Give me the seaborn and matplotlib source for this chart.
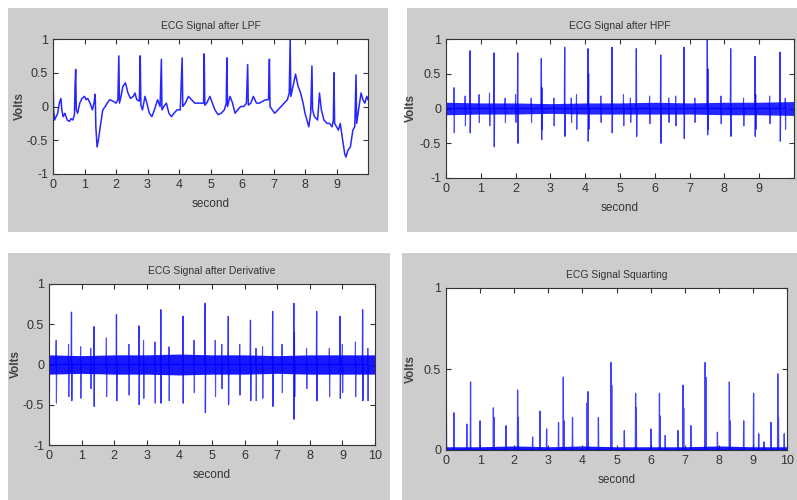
import numpy as np
import pandas as pd
import matplotlib
matplotlib.use("Agg")
import matplotlib.pyplot as plt
import seaborn as sns
from matplotlib.patches import Rectangle

sns.set_style("ticks")
plt.rcParams["font.family"] = ["Liberation Sans", "DejaVu Sans"]

# ---- panel 1: low pass filtered ECG (time, volts)
lpf_t = [0.00, 0.02, 0.05, 0.10, 0.15, 0.20, 0.25, 0.28, 0.32, 0.38, 0.45, 0.52, 0.58, 0.63, 0.68,
         0.70, 0.72, 0.74, 0.78, 0.85, 0.92, 1.00, 1.05, 1.10, 1.18, 1.25, 1.30, 1.34, 1.36, 1.40,
         1.44, 1.50, 1.58, 1.66, 1.72, 1.80, 1.90, 2.00, 2.06, 2.09, 2.11, 2.16, 2.22, 2.30, 2.38,
         2.46, 2.55, 2.60, 2.66, 2.74, 2.77, 2.79, 2.84, 2.92, 2.98, 3.06, 3.14, 3.22, 3.32, 3.40,
         3.44, 3.46, 3.52, 3.60, 3.68, 3.76, 3.84, 3.94, 4.04, 4.10, 4.12, 4.20, 4.30, 4.40, 4.50,
         4.60, 4.70, 4.78, 4.80, 4.82, 4.88, 4.98, 5.06, 5.14, 5.24, 5.34, 5.44, 5.50, 5.52, 5.54,
         5.62, 5.70, 5.78, 5.86, 5.96, 6.06, 6.14, 6.18, 6.20, 6.28, 6.36, 6.46, 6.56, 6.66, 6.76,
         6.84, 6.87, 6.89, 6.96, 7.04, 7.14, 7.24, 7.34, 7.44, 7.50, 7.53, 7.55, 7.62, 7.70, 7.78,
         7.86, 7.94, 8.00, 8.06, 8.12, 8.18, 8.22, 8.24, 8.30, 8.40, 8.46, 8.52, 8.60, 8.70, 8.78,
         8.86, 8.90, 8.92, 8.94, 9.00, 9.06, 9.12, 9.18, 9.26, 9.30, 9.36, 9.44, 9.52, 9.58, 9.62,
         9.64, 9.70, 9.78, 9.84, 9.90, 9.96, 10.00]
lpf_v = [0.50, -0.05, -0.20, -0.15, -0.10, 0.05, 0.12, -0.05, -0.15, -0.10, -0.20, -0.22, -0.18, -0.20, -0.12,
         0.30, 0.55, -0.05, -0.10, 0.05, 0.12, 0.15, 0.10, 0.12, 0.05, -0.05, 0.05, 0.18, -0.30, -0.60,
         -0.50, -0.30, -0.05, 0.00, 0.05, 0.10, 0.08, 0.05, 0.10, 0.75, 0.05, 0.15, 0.30, 0.35, 0.20,
         0.12, 0.15, 0.20, 0.10, 0.08, 0.75, 0.02, -0.05, 0.15, 0.05, -0.10, -0.15, -0.05, 0.10, 0.00,
         0.70, -0.05, 0.00, 0.05, -0.10, -0.15, -0.10, -0.05, -0.05, 0.72, 0.00, 0.05, 0.15, 0.10, 0.05,
         0.05, 0.05, 0.05, 0.78, 0.02, 0.05, 0.15, 0.05, -0.05, -0.12, -0.10, -0.05, 0.05, 0.72, 0.00,
         0.15, 0.05, -0.10, -0.05, 0.00, 0.00, 0.05, 0.62, 0.02, 0.05, 0.15, 0.05, 0.05, 0.08, 0.10,
         0.10, 0.70, 0.00, -0.05, -0.10, -0.05, 0.00, 0.05, 0.10, 0.20, 1.00, 0.15, 0.30, 0.48, 0.30,
         0.20, 0.05, -0.10, -0.20, -0.30, -0.10, 0.60, -0.05, -0.15, -0.20, 0.20, -0.05, -0.20, -0.25, -0.25,
         -0.30, -0.20, 0.50, -0.25, -0.30, -0.35, -0.25, -0.45, -0.70, -0.75, -0.65, -0.60, -0.35, -0.30, 0.47,
         -0.25, -0.05, 0.20, 0.10, 0.05, 0.15, 0.10]

# ---- panel 2: high pass filtered, R peaks (time, top, bottom)
hpf_r_t = [0.00, 0.69, 1.38, 2.06, 2.74, 3.41, 4.08, 4.77, 5.47, 6.17, 6.84, 7.51, 8.18, 8.88, 9.60]
hpf_r_top = [0.72, 0.83, 0.80, 0.80, 0.72, 0.88, 0.86, 0.88, 0.86, 0.77, 0.88, 1.00, 0.86, 0.75, 0.81]
hpf_r_bot = [-0.43, -0.35, -0.55, -0.50, -0.45, -0.40, -0.47, -0.35, -0.40, -0.50, -0.43, -0.38, -0.40, -0.40, -0.47]
hpf_s_t = [0.23, 0.55, 0.95, 1.25, 1.70, 2.00, 2.45, 2.76, 3.10, 3.60, 3.75, 4.10, 4.45, 5.10,
           5.30, 5.85, 6.40, 6.60, 7.15, 7.53, 7.90, 8.55, 8.90, 9.30, 9.75]
hpf_s_top = [0.30, 0.18, 0.20, 0.22, 0.15, 0.20, 0.15, 0.30, 0.15, 0.15, 0.20, 0.50, 0.18, 0.20,
             0.15, 0.18, 0.15, 0.18, 0.15, 0.57, 0.18, 0.15, 0.20, 0.18, 0.15]
hpf_s_bot = [-0.35, -0.25, -0.20, -0.25, -0.20, -0.20, -0.20, -0.30, -0.25, -0.20, -0.30, -0.30, -0.20, -0.25,
             -0.20, -0.22, -0.20, -0.25, -0.20, -0.30, -0.22, -0.25, -0.30, -0.22, -0.30]
hpf_band_t = [0, 1, 2, 3, 4, 5, 6, 7, 8, 9, 10]
hpf_band_hi = [0.09, 0.08, 0.08, 0.07, 0.08, 0.08, 0.09, 0.08, 0.09, 0.09, 0.10]
hpf_band_lo = [-0.09, -0.08, -0.08, -0.07, -0.08, -0.08, -0.08, -0.08, -0.09, -0.09, -0.10]

# ---- panel 3: derivative
der_r_t = [0.00, 0.69, 1.38, 2.07, 2.76, 3.43, 4.11, 4.79, 5.50, 6.18, 6.86, 7.51, 8.21, 8.93, 9.62]
der_r_top = [0.60, 0.65, 0.47, 0.62, 0.48, 0.68, 0.60, 0.76, 0.60, 0.55, 0.66, 0.76, 0.66, 0.60, 0.68]
der_r_bot = [-1.00, -0.45, -0.52, -0.45, -0.50, -0.48, -0.48, -0.60, -0.50, -0.45, -0.52, -0.68, -0.45, -0.42, -0.45]
der_s_t = [0.22, 0.60, 0.97, 1.28, 1.76, 2.45, 2.90, 3.25, 3.68, 4.45, 5.10, 5.30, 5.85, 6.35,
           6.55, 7.15, 7.53, 7.90, 8.60, 9.00, 9.40, 9.78]
der_s_top = [0.30, 0.25, 0.22, 0.20, 0.33, 0.25, 0.30, 0.28, 0.22, 0.30, 0.30, 0.25, 0.25, 0.20,
             0.22, 0.25, 0.40, 0.20, 0.20, 0.25, 0.28, 0.20]
der_s_bot = [-0.48, -0.40, -0.42, -0.30, -0.40, -0.38, -0.42, -0.48, -0.45, -0.35, -0.40, -0.30, -0.38, -0.45,
             -0.42, -0.35, -0.40, -0.30, -0.40, -0.35, -0.40, -0.45]
der_band_t = [0, 1, 2, 3, 4, 5, 6, 7, 8, 9, 10]
der_band_hi = [0.12, 0.11, 0.12, 0.12, 0.13, 0.12, 0.12, 0.11, 0.12, 0.12, 0.12]
der_band_lo = [-0.12, -0.11, -0.12, -0.12, -0.13, -0.12, -0.12, -0.11, -0.12, -0.12, -0.12]

# ---- panel 4: squared signal (time, height)
sq_t = [0.00, 0.01, 0.23, 0.61, 0.72, 1.00, 1.39, 1.41, 1.76, 2.10, 2.12, 2.54, 2.76, 2.95, 3.30,
        3.44, 3.46, 3.71, 4.14, 4.16, 4.47, 4.84, 4.86, 5.23, 5.56, 5.58, 6.01, 6.26, 6.28, 6.43,
        6.80, 6.95, 6.97, 7.18, 7.60, 7.62, 7.96, 8.31, 8.33, 8.73, 9.02, 9.17, 9.33, 9.53, 9.73,
        9.75, 9.92]
sq_h = [1.00, 0.35, 0.23, 0.16, 0.42, 0.18, 0.26, 0.20, 0.15, 0.37, 0.20, 0.08, 0.24, 0.13, 0.17,
        0.45, 0.18, 0.20, 0.29, 0.36, 0.20, 0.54, 0.40, 0.12, 0.35, 0.26, 0.13, 0.35, 0.21, 0.09,
        0.12, 0.40, 0.26, 0.15, 0.54, 0.45, 0.11, 0.42, 0.18, 0.18, 0.35, 0.10, 0.05, 0.17, 0.47,
        0.20, 0.10]
sq_band_t = [0, 1, 2, 3, 4, 5, 6, 7, 8, 9, 10]
sq_band_hi = [0.02, 0.02, 0.025, 0.02, 0.025, 0.02, 0.02, 0.02, 0.025, 0.02, 0.02]

BLUE = (0, 0, 1)
DT = 0.008


def spike_frame(times, tops, bots):
    rows = []
    for t, a, b in zip(times, tops, bots):
        rows += [(t - DT, 0.0), (t, a), (t + DT, b), (t + 2 * DT, 0.0)]
    return pd.DataFrame(rows, columns=["t", "v"])


def matlab_axes(ax, title, ylim, yticks, ylabels, xticks):
    ax.set_xlim(0, 10)
    ax.set_ylim(*ylim)
    ax.set_xticks(xticks)
    ax.set_xticklabels([str(x) for x in xticks], fontsize=9)
    ax.set_yticks(yticks)
    ax.set_yticklabels(ylabels, fontsize=9)
    ax.tick_params(direction="in", length=3.5, width=0.8, top=True, right=True, pad=3.5,
                   colors="#333333")
    for s in ax.spines.values():
        s.set_visible(True)
        s.set_linewidth(0.8)
        s.set_color("#333333")
    ax.set_title(title, fontsize=7.5, pad=7, color="#333333")
    ax.set_xlabel("second", fontsize=8.5, labelpad=5, color="#333333")
    ax.set_ylabel("Volts", fontsize=8.5, fontweight="bold", color="#444444")
    ax.set_facecolor("white")


fig = plt.figure(figsize=(7.97, 5.0), dpi=100)
W, H = 797, 500
for x0, y0, x1, y1 in [(8, 8, 388, 232), (407, 8, 797, 232), (8, 253, 390, 500), (402, 253, 797, 500)]:
    fig.patches.append(Rectangle((x0 / W, 1 - y1 / H), (x1 - x0) / W, (y1 - y0) / H,
                                 transform=fig.transFigure, facecolor="#cdcdcd", edgecolor="none", zorder=-5))

ax1 = fig.add_axes([53 / W, 1 - 174 / H, 315 / W, 135 / H])
ax2 = fig.add_axes([446 / W, 1 - 178 / H, 348 / W, 139 / H])
ax3 = fig.add_axes([49 / W, 1 - 445 / H, 326 / W, 161 / H])
ax4 = fig.add_axes([446 / W, 1 - 450 / H, 341 / W, 162 / H])

pm_ticks = [-1, -0.5, 0, 0.5, 1]
pm_labels = ["-1", "-0.5", "0", "0.5", "1"]

# LPF
sns.lineplot(x=lpf_t, y=lpf_v, ax=ax1, color=BLUE, lw=1.1, sort=False, estimator=None, alpha=0.85)
matlab_axes(ax1, "ECG Signal after LPF", (-1, 1), pm_ticks, pm_labels, list(range(10)))

# HPF
ax2.fill_between(hpf_band_t, hpf_band_lo, hpf_band_hi, color=BLUE, alpha=0.85, lw=0)
sp = spike_frame(hpf_s_t, hpf_s_top, hpf_s_bot)
sns.lineplot(data=sp, x="t", y="v", ax=ax2, color=BLUE, lw=0.8, sort=False, estimator=None, alpha=0.7)
sp = spike_frame(hpf_r_t, hpf_r_top, hpf_r_bot)
sns.lineplot(data=sp, x="t", y="v", ax=ax2, color=BLUE, lw=0.9, sort=False, estimator=None, alpha=0.8)
matlab_axes(ax2, "ECG Signal after HPF", (-1, 1), pm_ticks, pm_labels, list(range(10)))

# Derivative
ax3.fill_between(der_band_t, der_band_lo, der_band_hi, color=BLUE, alpha=0.9, lw=0)
sp = spike_frame(der_s_t, der_s_top, der_s_bot)
sns.lineplot(data=sp, x="t", y="v", ax=ax3, color=BLUE, lw=0.8, sort=False, estimator=None, alpha=0.7)
sp = spike_frame(der_r_t, der_r_top, der_r_bot)
sns.lineplot(data=sp, x="t", y="v", ax=ax3, color=BLUE, lw=0.9, sort=False, estimator=None, alpha=0.8)
matlab_axes(ax3, "ECG Signal after Derivative", (-1, 1), pm_ticks, pm_labels, list(range(11)))

# Squaring
ax4.fill_between(sq_band_t, 0, sq_band_hi, color=BLUE, alpha=0.9, lw=0)
sp = spike_frame(sq_t, sq_h, [0.0] * len(sq_t))
sns.lineplot(data=sp, x="t", y="v", ax=ax4, color=BLUE, lw=0.9, sort=False, estimator=None, alpha=0.75)
matlab_axes(ax4, "ECG Signal Squarting", (0, 1), [0, 0.5, 1], ["0", "0.5", "1"], list(range(11)))

# y label positions, in pixels left of each axes
for ax, off in ((ax1, 27), (ax2, 29), (ax3, 27), (ax4, 29)):
    ax.yaxis.set_label_coords(-off / (ax.get_position().width * W), 0.5)

fig.savefig("out.png", dpi=100)
